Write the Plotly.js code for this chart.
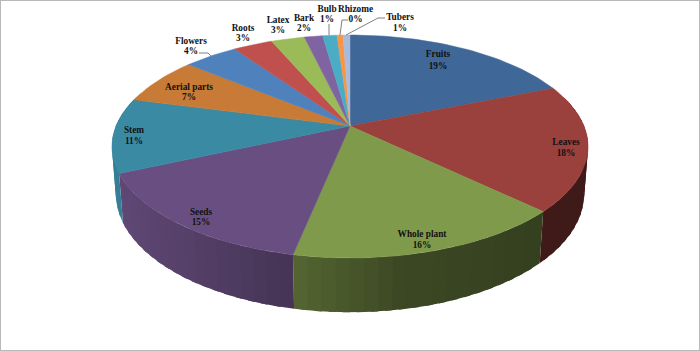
<!DOCTYPE html>
<html><head><meta charset="utf-8">
<script src="https://cdn.plot.ly/plotly-3.0.1.min.js"></script>
<style>html,body{margin:0;padding:0;background:#fff}#c{width:700px;height:351px}</style>
</head><body><div id="c"></div>
<script>
// Data
const categories = ["Fruits","Leaves","Whole plant","Seeds","Stem","Aerial parts","Flowers","Roots","Latex","Bark","Bulb","Rhizome","Tubers"];
const shares = [18.9,18.3,16,15.1,10.8,6.9,4.4,3.2,2.7,1.5,1.15,0.49,0.56];
// Styles
const topColors = ["#3f6797","#9a403d","#809a4c","#694f81","#3b8aa3","#c77b37","#4f81bd","#c0504d","#9bbb59","#8064a2","#4bacc6","#f79646","#a9bbdc"];
const labelX = [438,566,422,201,134,189,191,243,278,304,327,355.5,400];
const nameY = [55,143,235,213,131,88,42,29,21,19,10,10,18];
const pctY = [67,154,246,223,142,98,52,39,31,29,20,20,29];
const leaders = [
  [[199,208,212],[53,53,57]],
  [[329,329],[24,35]],
  [[348,342,340],[20,20,35]],
  [[385,378,346],[18,18,35]]
];
// Projection of the tilted disc
const cx=350, cy=126, A=234, B=107.7, C=47.3, k=0.1838, m=0.016;
function proj(theta, z){
  const u=Math.sin(theta), v=Math.cos(theta), w=1+k*v+m*z;
  return [cx+A*u/w, cy+(-B*v+C*z)/w];
}
function rgb(hex,f){
  const n=parseInt(hex.slice(1),16);
  return `rgb(${Math.round((n>>16&255)*f)},${Math.round((n>>8&255)*f)},${Math.round((n&255)*f)})`;
}
function shade(x){
  const xs=[112,292,400,545,590], fs=[0.92,0.66,0.47,0.41,0.40];
  for(let i=0;i<xs.length-1;i++) if(x<=xs[i+1]){const t=Math.max(0,(x-xs[i])/(xs[i+1]-xs[i]));return fs[i]+t*(fs[i+1]-fs[i]);}
  return fs[fs.length-1];
}
const total=shares.reduce((a,b)=>a+b,0);
const traces=[], tops=[], walls=[];
let acc=0;
shares.forEach((s,i)=>{
  const a0=acc/total*2*Math.PI, a1=(acc+s)/total*2*Math.PI; acc+=s;
  const n=Math.max(2,Math.ceil((a1-a0)/(Math.PI/180*1.5)));
  const xs=[cx], ys=[cy];
  for(let j=0;j<=n;j++){const p=proj(a0+(a1-a0)*j/n,0);xs.push(p[0]);ys.push(p[1]);}
  xs.push(cx);ys.push(cy);
  tops.push({x:xs,y:ys,mode:'lines',fill:'toself',fillcolor:topColors[i],line:{color:topColors[i],width:0.5},hoverinfo:'skip',showlegend:false});
  const ns=Math.max(1,Math.ceil((a1-a0)/(Math.PI/180*3)));
  const wall=[];
  for(let j=0;j<ns;j++){
    const t0=a0+(a1-a0)*j/ns, t1=a0+(a1-a0)*(j+1)/ns;
    if(Math.cos((t0+t1)/2)>0.3) continue;
    const te=Math.min(a1,t1+Math.PI/180*1.5), steps=3;
    const up=[],dn=[];
    for(let q=0;q<=steps;q++){const t=t0+(te-t0)*q/steps;up.push(proj(t,0));dn.unshift(proj(t,1));}
    const pts=up.concat(dn);pts.push(up[0]);
    const col=rgb(topColors[i],shade((proj(t0,0)[0]+proj(t1,0)[0])/2));
    wall.push({x:pts.map(p=>p[0]),y:pts.map(p=>p[1]),mode:'lines',fill:'toself',fillcolor:col,line:{width:0,color:col},hoverinfo:'skip',showlegend:false});
  }
  // paint so that each strip's overlap is hidden by the following one
  wall.forEach(w=>walls.push({order:i,t:w}));
});
// right-hand slices first, then the left ones, each in angular order
walls.forEach(w=>traces.push(w.t));
tops.forEach(t=>traces.push(t));
leaders.forEach(l=>traces.push({x:l[0],y:l[1],mode:'lines',line:{color:'#808080',width:1},hoverinfo:'skip',showlegend:false}));
const font={family:'"Liberation Serif",serif',size:9.3,color:'#111'};
traces.push({x:labelX,y:nameY,mode:'text',text:categories.map(c=>'<b>'+c+'</b>'),textposition:'middle center',textfont:font,hoverinfo:'skip',showlegend:false});
traces.push({x:labelX,y:pctY,mode:'text',text:shares.map(s=>'<b>'+Math.round(s)+'%</b>'),textposition:'middle center',textfont:font,hoverinfo:'skip',showlegend:false});
const layout={width:700,height:351,margin:{l:0,r:0,t:0,b:0},paper_bgcolor:'#fff',plot_bgcolor:'#fff',
  xaxis:{range:[0,700],visible:false,fixedrange:true},yaxis:{range:[351,0],visible:false,fixedrange:true},
  shapes:[{type:'rect',xref:'paper',yref:'paper',x0:0,x1:1,y0:0,y1:1,line:{color:'#b8b8b8',width:2},layer:'above'}]};
Plotly.newPlot('c',traces,layout,{displayModeBar:false,staticPlot:true});
</script></body></html>
